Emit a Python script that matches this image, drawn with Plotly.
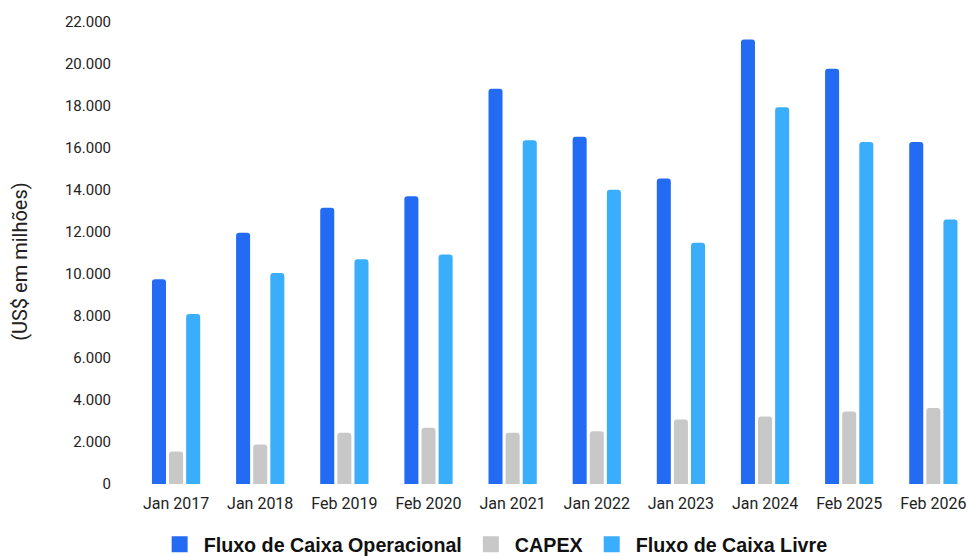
import plotly.graph_objects as go

categories = ["Jan 2017", "Jan 2018", "Feb 2019", "Feb 2020", "Jan 2021",
              "Jan 2022", "Jan 2023", "Jan 2024", "Feb 2025", "Feb 2026"]
fluxo_operacional = [9750, 11960, 13150, 13700, 18820, 16530, 14550, 21170, 19770, 16290]
capex = [1550, 1880, 2440, 2680, 2440, 2510, 3070, 3210, 3450, 3620]
fluxo_livre = [8100, 10050, 10700, 10930, 16370, 14010, 11490, 17940, 16290, 12600]
y_ticks = [0, 2000, 4000, 6000, 8000, 10000, 12000, 14000, 16000, 18000, 20000, 22000]

series = [
    ("Fluxo de Caixa Operacional", fluxo_operacional, "#246BF4"),
    ("CAPEX", capex, "#C8C8C8"),
    ("Fluxo de Caixa Livre", fluxo_livre, "#3AAEFA"),
]

fig = go.Figure()
for name, vals, color in series:
    fig.add_bar(x=categories, y=vals, name=name, showlegend=False, legendgroup=name,
                marker=dict(color=color, line=dict(width=0)))
for name, vals, color in series:
    # legend-only proxy with a larger square swatch
    fig.add_scatter(x=[categories[0]], y=[None], name=name, mode="markers", legendgroup=name,
                    marker=dict(symbol="square", size=16, color=color, line=dict(width=0)),
                    hoverinfo="skip")

fig.update_layout(
    width=967, height=556,
    margin=dict(l=134, r=0, t=22, b=72, autoexpand=False),
    paper_bgcolor="white", plot_bgcolor="white",
    barmode="group", bargap=0.39, bargroupgap=0.18, barcornerradius=3,
    separators=",.",
    font=dict(family="Roboto", size=14, color="#222222"),
    showlegend=True,
    legend=dict(orientation="h", xref="container", yref="container",
                x=0.511, xanchor="center", y=0.021, yanchor="middle",
                font=dict(family="Liberation Sans", size=19.7, color="#111111", weight="bold"),
                itemwidth=38, traceorder="normal"),
    annotations=[dict(text="(US$ em milhões)", xref="paper", yref="paper",
                      x=-0.1369, y=0.483, xanchor="center", yanchor="middle",
                      textangle=-90, showarrow=False,
                      font=dict(family="Roboto", size=20, color="#222222"))],
)
fig.update_xaxes(range=[-0.5, 9.4], showgrid=False, showline=False, zeroline=False,
                 ticks="", ticklabelstandoff=8, tickfont=dict(size=16, color="#222222"))
fig.update_yaxes(range=[0, 22000], tickvals=y_ticks, tickformat=",.0f",
                 showgrid=False, showline=False, zeroline=False, ticks="",
                 ticklabelstandoff=22,
                 tickfont=dict(size=15, color="#222222"))

fig.write_html("out.html")
